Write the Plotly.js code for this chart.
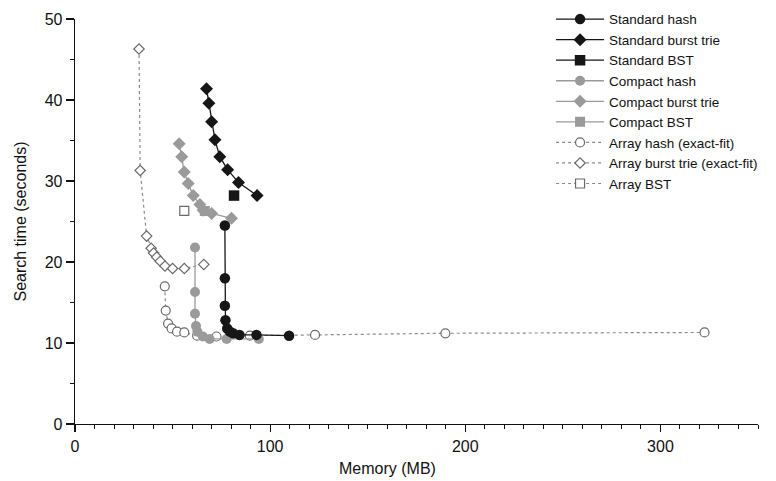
<!DOCTYPE html>
<html>
<head>
<meta charset="utf-8">
<script src="https://cdn.plot.ly/plotly-3.0.1.min.js"></script>
<style>html,body{margin:0;padding:0;background:#fff;}#chart{width:776px;height:481px;}</style>
</head>
<body>
<div id="chart"></div>
<script>
// Standard hash
const stdHashX = [76.8, 76.8, 76.8, 77.1, 78.0, 79.4, 81.0, 84.3, 93.0, 109.7];
const stdHashY = [24.5, 18.0, 14.6, 12.8, 11.8, 11.4, 11.2, 11.0, 11.0, 10.9];
// Standard burst trie
const stdBurstX = [67.4, 68.6, 70.0, 71.7, 74.2, 78.2, 83.8, 93.3];
const stdBurstY = [41.4, 39.6, 37.3, 35.1, 33.0, 31.4, 29.8, 28.2];
// Standard BST
const stdBstX = [81.5];
const stdBstY = [28.2];
// Compact hash
const cmpHashX = [61.5, 61.5, 61.5, 62.0, 62.7, 65.5, 69.0, 77.7, 94.2];
const cmpHashY = [21.8, 16.3, 13.6, 12.1, 11.4, 10.8, 10.5, 10.5, 10.5];
// Compact burst trie
const cmpBurstX = [53.4, 54.7, 56.0, 58.0, 60.6, 64.0, 65.7, 70.0, 80.2];
const cmpBurstY = [34.6, 33.0, 31.1, 29.7, 28.2, 27.1, 26.4, 26.0, 25.4];
// Compact BST
const cmpBstX = [66.5];
const cmpBstY = [26.3];
// Array hash (exact-fit)
const arrHashX = [46.0, 46.5, 47.7, 49.5, 52.3, 56.0, 62.6, 72.5, 89.6, 123.0, 189.8, 322.6];
const arrHashY = [17.0, 14.0, 12.4, 11.8, 11.4, 11.3, 10.9, 10.8, 10.9, 11.0, 11.2, 11.3];
// Array burst trie (exact-fit)
const arrBurstX = [32.8, 33.4, 36.7, 39.0, 40.3, 41.9, 43.7, 46.1, 50.0, 56.0, 66.0];
const arrBurstY = [46.3, 31.3, 23.2, 21.7, 21.1, 20.6, 20.1, 19.5, 19.2, 19.2, 19.7];
// Array BST
const arrBstX = [56.0];
const arrBstY = [26.3];

const xTicks = [0, 100, 200, 300];
const yTicks = [0, 10, 20, 30, 40, 50];

const BLACK = '#161616';
const GREY = '#9a9a9a';
const OPEN = '#6a6a6a';
const DOT = '#8a8a8a';

function solid(name, x, y, color, symbol, size) {
  return {type: 'scatter', mode: 'lines+markers', name: name, x: x, y: y,
    line: {color: color, width: 1.3},
    marker: {color: color, symbol: symbol, size: size, line: {width: 0}}};
}
function open(name, x, y, symbol, size) {
  return {type: 'scatter', mode: 'lines+markers', name: name, x: x, y: y,
    line: {color: DOT, width: 1.2, dash: 'dot'},
    marker: {color: '#ffffff', symbol: symbol, size: size, line: {color: OPEN, width: 1.2}}};
}

const data = [
  open('Array hash (exact-fit)', arrHashX, arrHashY, 'circle', 9),
  open('Array burst trie (exact-fit)', arrBurstX, arrBurstY, 'diamond', 8),
  open('Array BST', arrBstX, arrBstY, 'square', 9),
  solid('Compact hash', cmpHashX, cmpHashY, GREY, 'circle', 10),
  solid('Compact burst trie', cmpBurstX, cmpBurstY, GREY, 'diamond', 10),
  solid('Compact BST', cmpBstX, cmpBstY, GREY, 'square', 10),
  solid('Standard hash', stdHashX, stdHashY, BLACK, 'circle', 10.5),
  solid('Standard burst trie', stdBurstX, stdBurstY, BLACK, 'diamond', 10),
  solid('Standard BST', stdBstX, stdBstY, BLACK, 'square', 10.5)
];
const order = [6,7,8,3,4,5,0,1,2];
order.forEach((idx, i) => { data[idx].legendrank = i + 1; });

const layout = {
  width: 776, height: 481,
  margin: {l: 75, r: 18, t: 3, b: 57},
  paper_bgcolor: '#fff', plot_bgcolor: '#fff',
  font: {family: 'Liberation Sans, Arial, sans-serif', size: 16, color: '#111'},
  showlegend: true,
  legend: {x: 0.697, y: 0.998, xanchor: 'left', yanchor: 'top',
    font: {size: 13.5, color: '#111'}, tracegroupgap: 0, itemwidth: 48,
    bgcolor: 'rgba(0,0,0,0)', traceorder: 'normal'},
  xaxis: {range: [0, 350], showgrid: false, zeroline: false,
    showline: true, linecolor: '#111', linewidth: 1.3,
    ticks: 'outside', ticklen: 7, tickwidth: 1.2, tickcolor: '#111',
    tickvals: xTicks,
    minor: {dtick: 10, ticks: 'outside', ticklen: 4, tickcolor: '#111', tickwidth: 1, showgrid: false},
    tickfont: {size: 16}},
  yaxis: {range: [0, 50], domain: [0, 0.962], showgrid: false, zeroline: false,
    showline: true, linecolor: '#111', linewidth: 1.3,
    ticks: 'outside', ticklen: 8, tickwidth: 1.2, tickcolor: '#111',
    tickvals: yTicks,
    minor: {dtick: 5, ticks: 'outside', ticklen: 4, tickcolor: '#111', tickwidth: 1, showgrid: false},
    tickfont: {size: 16},
    title: {text: 'Search time (seconds)', font: {size: 16}, standoff: 14}},
  annotations: [{text: 'Memory (MB)', xref: 'paper', yref: 'paper', x: 0.457, y: -0.08,
    xanchor: 'center', yanchor: 'top', showarrow: false, font: {size: 16, color: '#111'}}]
};

Plotly.newPlot('chart', data, layout, {displayModeBar: false, staticPlot: true});
</script>
</body>
</html>
